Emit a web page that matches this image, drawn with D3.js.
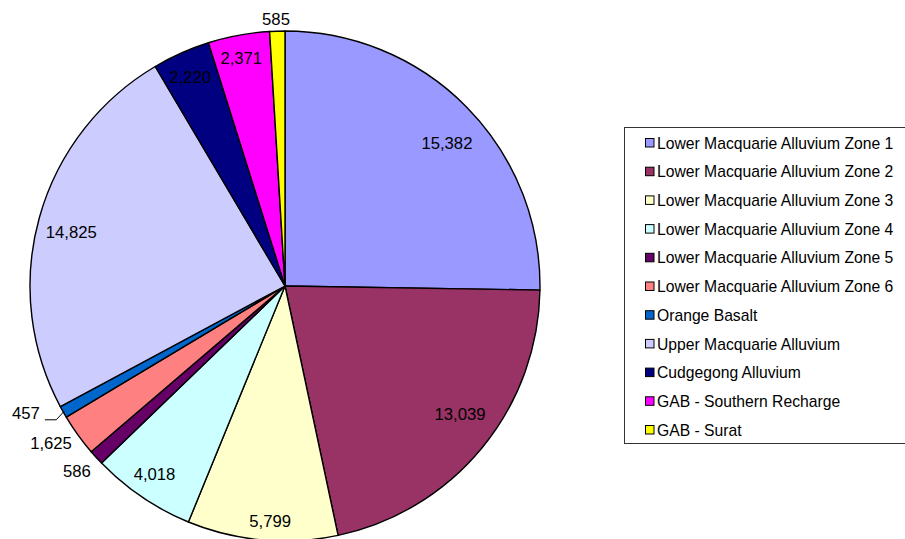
<!DOCTYPE html>
<html>
<head>
<meta charset="utf-8">
<script src="https://cdn.jsdelivr.net/npm/d3@7/dist/d3.min.js"></script>
<style>
  html, body { margin: 0; padding: 0; background: #fff; }
  svg { display: block; font-family: Arial, "Liberation Sans", sans-serif; }
</style>
</head>
<body>
<svg id="chart" width="905" height="539"></svg>
<script>
// ---- data ----
const categories = [
  "Lower Macquarie Alluvium Zone 1",
  "Lower Macquarie Alluvium Zone 2",
  "Lower Macquarie Alluvium Zone 3",
  "Lower Macquarie Alluvium Zone 4",
  "Lower Macquarie Alluvium Zone 5",
  "Lower Macquarie Alluvium Zone 6",
  "Orange Basalt",
  "Upper Macquarie Alluvium",
  "Cudgegong Alluvium",
  "GAB - Southern Recharge",
  "GAB - Surat"
];
const values = [15382, 13039, 5799, 4018, 586, 1625, 457, 14825, 2220, 2371, 585];
const colors = ["#9999FF", "#993366", "#FFFFCC", "#CCFFFF", "#660066", "#FF8080",
                "#0066CC", "#CCCCFF", "#000080", "#FF00FF", "#FFFF00"];

// label layout (radius in px, angular nudge in degrees) — presentation only
const labelRadius = [216, 217, 235.5, 229, 278.5, 282, 288.5, 220.5, 229.5, 232, 267];
const labelNudge  = [3.1, -3.2, -1.5, 0.6, 0.6, 1.8, 3.5, -1.4, -0.4, -0.4, -0.2];

const svg = d3.select("#chart");
const cx = 285, cy = 286, R = 255;

const data = categories.map((c, i) => ({ name: c, value: values[i], color: colors[i], i }));
const pie = d3.pie().value(d => d.value).sort(null);
const arcs = pie(data);
const arc = d3.arc().innerRadius(0).outerRadius(R);

const g = svg.append("g").attr("transform", `translate(${cx},${cy})`);
g.selectAll("path.slice").data(arcs).enter().append("path")
  .attr("class", "slice")
  .attr("d", arc)
  .attr("fill", d => d.data.color)
  .attr("stroke", "#000")
  .attr("stroke-width", 1.4)
  .attr("stroke-linejoin", "round");

const fmt = d3.format(",");
function labelPos(d) {
  const a = (d.startAngle + d.endAngle) / 2 + labelNudge[d.data.i] * Math.PI / 180;
  const r = labelRadius[d.data.i];
  return [r * Math.sin(a), -r * Math.cos(a)];
}

// leader line for Orange Basalt
const ob = arcs[6];
{
  const a = (ob.startAngle + ob.endAngle) / 2;
  const p0 = [ (R - 1) * Math.sin(a), -(R - 1) * Math.cos(a)];
  const p1 = [ (R + 8) * Math.sin(a), -(R + 8) * Math.cos(a) + 4];
  const lp = labelPos(ob);
  const p2 = [lp[0] + 19, p1[1]];
  g.append("polyline")
    .attr("points", [p0, p1, p2].map(p => p.join(",")).join(" "))
    .attr("fill", "none").attr("stroke", "#000").attr("stroke-width", 1);
}

g.selectAll("text.lbl").data(arcs).enter().append("text")
  .attr("class", "lbl")
  .attr("x", d => labelPos(d)[0])
  .attr("y", d => labelPos(d)[1])
  .attr("dy", "0.36em")
  .attr("text-anchor", "middle")
  .attr("font-size", "16.7px")
  .attr("fill", "#000")
  .text(d => fmt(d.data.value));

// ---- legend ----
const lx = 624.5, ly = 127.5, rowH = 28.7, firstRow = 143;
svg.append("rect")
  .attr("x", lx).attr("y", ly).attr("width", 300).attr("height", 316)
  .attr("fill", "#fff").attr("stroke", "#333").attr("stroke-width", 1);

const items = svg.selectAll("g.item").data(data).enter().append("g")
  .attr("class", "item")
  .attr("transform", (d, i) => `translate(0,${firstRow + i * rowH})`);
items.append("rect")
  .attr("x", 645.5).attr("y", -4.5).attr("width", 8.5).attr("height", 8.5)
  .attr("fill", d => d.color).attr("stroke", "#000").attr("stroke-width", 1);
items.append("text")
  .attr("x", 657).attr("y", 0).attr("dy", "0.36em")
  .attr("font-size", "15.7px").attr("fill", "#000")
  .text(d => d.name);
</script>
</body>
</html>
